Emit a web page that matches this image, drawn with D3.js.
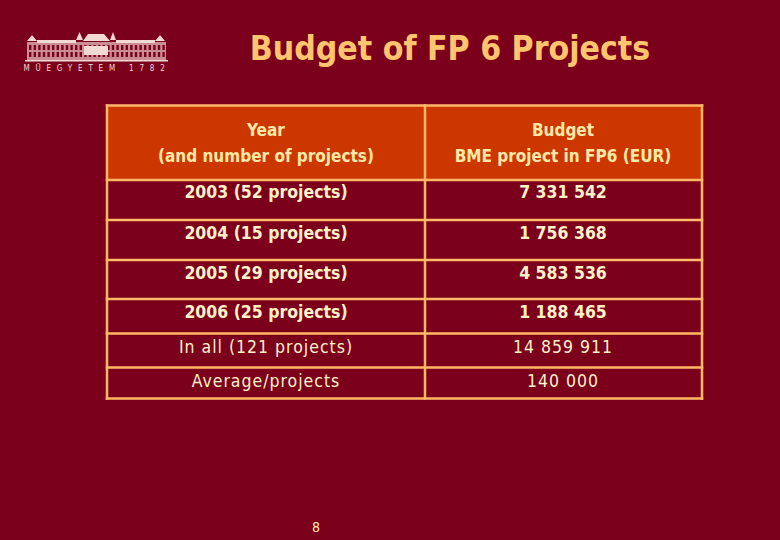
<!DOCTYPE html>
<html>
<head>
<meta charset="utf-8">
<script src="https://cdn.jsdelivr.net/npm/d3@7"></script>
<style>
  html, body { margin: 0; padding: 0; background: #7a001c; }
  svg { display: block; }
  text { font-family: "DejaVu Sans", sans-serif; font-stretch: condensed; text-anchor: middle; }
</style>
</head>
<body>
<svg id="chart" width="780" height="540"></svg>
<script>
const title = 'Budget of FP 6 Projects'
const headers = [['Year', '(and number of projects)'], ['Budget', 'BME project in FP6 (EUR)']]
const years = ['2003 (52 projects)', '2004 (15 projects)', '2005 (29 projects)', '2006 (25 projects)', 'In all (121 projects)', 'Average/projects']
const budgets = ['7 331 542', '1 756 368', '4 583 536', '1 188 465', '14 859 911', '140 000']
const logoLabel = 'MŰEGYETEM 1782'
const pageNumber = '8'

const svg = d3.select('#chart')
const cream = '#ffc56e'
const gridLine = '#ffb866'
const bodyText = '#fff2c8'
const logoColor = '#f3d9d4'

svg.append('rect').attr('width', 780).attr('height', 540).attr('fill', '#7a001c')

// table layout
const rowEdges = [105.5, 180, 220, 260, 299, 333.5, 367.5, 398.5]
const colEdges = [107, 425, 702]
const x = d3.scaleOrdinal().domain([0, 1]).range([266, 563])

svg.append('rect')
  .attr('x', colEdges[0]).attr('y', rowEdges[0])
  .attr('width', colEdges[2] - colEdges[0]).attr('height', rowEdges[1] - rowEdges[0])
  .attr('fill', '#cc3700')

svg.selectAll('line.h').data(rowEdges).enter().append('line')
  .attr('class', 'h')
  .attr('x1', colEdges[0] - 1.25).attr('x2', colEdges[2] + 1.25)
  .attr('y1', d => d).attr('y2', d => d)
  .attr('stroke', gridLine).attr('stroke-width', 2.5)

svg.selectAll('line.v').data(colEdges).enter().append('line')
  .attr('class', 'v')
  .attr('x1', d => d).attr('x2', d => d)
  .attr('y1', rowEdges[0] - 1.25).attr('y2', rowEdges[7] + 1.25)
  .attr('stroke', gridLine).attr('stroke-width', 2.5)

// title
svg.append('text')
  .attr('x', 450).attr('y', 60)
  .attr('font-size', 33.5).attr('font-weight', 'bold')
  .attr('fill', cream).text(title)

// header
const headerY = [136, 162]
headers.forEach((lines, c) => {
  svg.selectAll('text.head' + c).data(lines).enter().append('text')
    .attr('class', 'head' + c)
    .attr('x', x(c)).attr('y', (d, i) => headerY[i])
    .attr('font-size', 17).attr('font-weight', 'bold')
    .attr('fill', '#ffe9a8').text(d => d)
})

// body rows, the last two are in regular weight
const rowY = [198, 239, 279, 318, 353, 387]
const drawColumn = (values, c) => {
  svg.selectAll('text.col' + c).data(values).enter().append('text')
    .attr('class', 'col' + c)
    .attr('x', x(c)).attr('y', (d, i) => rowY[i])
    .attr('font-size', 17.5)
    .attr('font-weight', (d, i) => i < 4 ? 'bold' : 'normal')
    .attr('letter-spacing', (d, i) => i < 4 ? 0 : 1)
    .attr('fill', bodyText).text(d => d)
}
drawColumn(years, 0)
drawColumn(budgets, 1)

// page number
svg.append('text').attr('x', 316).attr('y', 532)
  .attr('font-size', 14).attr('fill', '#ffe9a8').text(pageNumber)

// logo: the university building
const logo = svg.append('g').attr('fill', logoColor)
logo.append('rect').attr('x', 25).attr('y', 60).attr('width', 143).attr('height', 1.5)
logo.append('rect').attr('x', 27).attr('y', 42).attr('width', 139).attr('height', 18).attr('fill', '#c98d93')
logo.append('path').attr('d',
  'M27 41 L32 35 L37 41 Z M155 41 L160 35 L165 41 Z M37 40 H76 V43 H37 Z M116 40 H155 V43 H116 Z ' +
  'M83 41 L88 34 H104 L110 41 Z M76 40 L79.5 32 L83 40 Z M110 40 L113 32 L116 40 Z')
const windowsX = d3.range(29, 165, 4.6)
const windowsY = [45, 52]
windowsY.forEach((wy, r) => {
  logo.selectAll('rect.win' + r).data(windowsX).enter().append('rect')
    .attr('class', 'win' + r)
    .attr('x', d => d).attr('y', wy).attr('width', 2.4).attr('height', 5)
    .attr('fill', '#7a001c')
})
logo.append('rect').attr('x', 84).attr('y', 46).attr('width', 24).attr('height', 9)
logo.append('text')
  .attr('x', 97).attr('y', 71)
  .attr('font-size', 8).attr('letter-spacing', 5.8)
  .attr('fill', logoColor).text(logoLabel)
</script>
</body>
</html>
